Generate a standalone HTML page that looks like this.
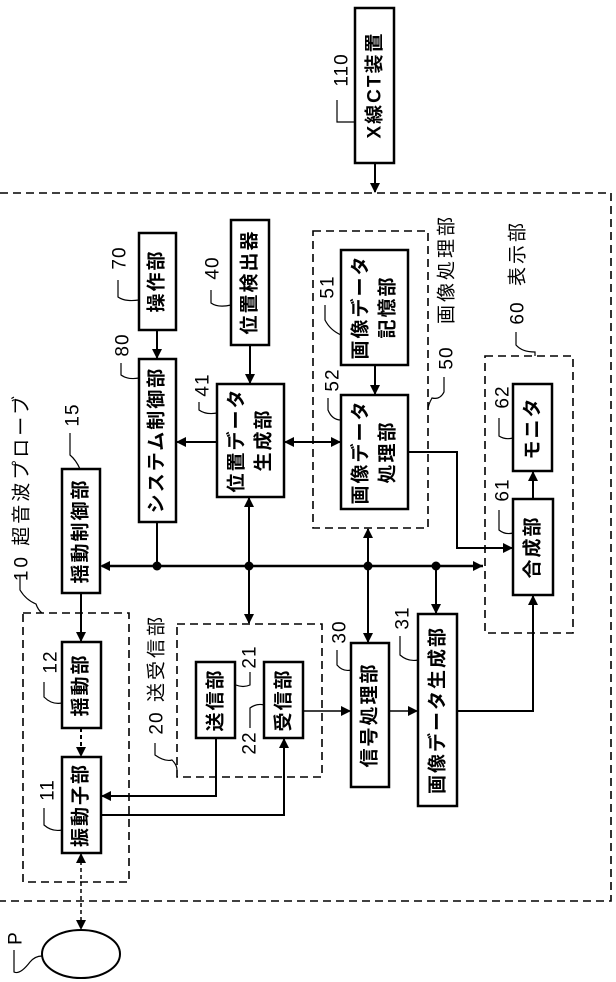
<!DOCTYPE html>
<html><head><meta charset="utf-8"><style>
html,body{margin:0;padding:0;background:#fff;}
svg{display:block;}
text{font-family:"Liberation Sans","Noto Sans CJK JP",sans-serif;fill:#000;}
.b{fill:#fff;stroke:#000;stroke-width:2.5;}
.d{fill:none;stroke:#000;stroke-width:1.6;stroke-dasharray:8,5;}
.l{fill:none;stroke:#000;stroke-width:2;}
.t{font-size:19px;font-weight:bold;letter-spacing:2px;}
.g{font-size:19px;letter-spacing:3px;}
.n{font-size:19px;letter-spacing:1px;}
.w{fill:none;stroke:#000;stroke-width:1.2;}
</style></head><body>
<svg width="616" height="982" viewBox="0 0 616 982" xmlns="http://www.w3.org/2000/svg">
<defs>
<marker id="a" markerWidth="10" markerHeight="10" refX="9" refY="5" orient="auto" markerUnits="userSpaceOnUse"><path d="M0,0 L10,5 L0,10 z" fill="#000"/></marker>
<marker id="s" markerWidth="10" markerHeight="10" refX="1" refY="5" orient="auto" markerUnits="userSpaceOnUse"><path d="M10,0 L0,5 L10,10 z" fill="#000"/></marker>
</defs>

<path class="d" d="M0,193 H611 V901 H0"/>
<rect class="b" x="355" y="8" width="39" height="155"/>
<text class="t" transform="translate(375,85) rotate(-90)" text-anchor="middle" dominant-baseline="central">X線CT装置</text>
<text class="n" transform="translate(342,70) rotate(-90)" text-anchor="middle" dominant-baseline="central">110</text>
<path class="w" d="M337,100 V122 H355"/>
<line class="l" x1="375" y1="163" x2="375" y2="192" marker-end="url(#a)"/>

<rect class="d" x="23" y="613" width="106" height="269"/>
<rect class="d" x="177" y="624" width="145" height="153"/>
<rect class="d" x="313" y="231" width="115" height="297"/>
<rect class="d" x="485" y="356" width="88" height="277"/>

<line class="l" x1="483" y1="566" x2="102" y2="566" style="stroke-width:2.5"/>
<path d="M100,566 l10,-5 v10z M483,566 l-10,-5 v10z" fill="#000"/>
<g fill="#000"><circle cx="157" cy="566" r="4.5"/><circle cx="249" cy="566" r="4.5"/><circle cx="368" cy="566" r="4.5"/><circle cx="436" cy="566" r="4.5"/></g>

<rect class="b" x="139" y="233" width="37" height="97"/>
<text class="t" transform="translate(157,281) rotate(-90)" text-anchor="middle" dominant-baseline="central">操作部</text>
<rect class="b" x="231" y="220" width="38" height="125"/>
<text class="t" transform="translate(250,282) rotate(-90)" text-anchor="middle" dominant-baseline="central">位置検出器</text>
<rect class="b" x="139" y="359" width="37" height="163"/>
<text class="t" transform="translate(157,440) rotate(-90)" text-anchor="middle" dominant-baseline="central">システム制御部</text>
<rect class="b" x="217" y="384" width="67" height="113"/>
<text class="t" transform="translate(237,440) rotate(-90)" text-anchor="middle" dominant-baseline="central">位置データ</text>
<text class="t" transform="translate(264,440) rotate(-90)" text-anchor="middle" dominant-baseline="central">生成部</text>
<rect class="b" x="62" y="469" width="38" height="124"/>
<text class="t" transform="translate(81,531) rotate(-90)" text-anchor="middle" dominant-baseline="central">揺動制御部</text>
<rect class="b" x="341" y="250" width="67" height="115"/>
<text class="t" transform="translate(361,307) rotate(-90)" text-anchor="middle" dominant-baseline="central">画像データ</text>
<text class="t" transform="translate(388,307) rotate(-90)" text-anchor="middle" dominant-baseline="central">記憶部</text>
<rect class="b" x="341" y="395" width="67" height="114"/>
<text class="t" transform="translate(361,452) rotate(-90)" text-anchor="middle" dominant-baseline="central">画像データ</text>
<text class="t" transform="translate(388,452) rotate(-90)" text-anchor="middle" dominant-baseline="central">処理部</text>
<rect class="b" x="513" y="384" width="39" height="87"/>
<text class="t" transform="translate(533,428) rotate(-90)" text-anchor="middle" dominant-baseline="central">モニタ</text>
<rect class="b" x="513" y="499" width="40" height="96"/>
<text class="t" transform="translate(533,547) rotate(-90)" text-anchor="middle" dominant-baseline="central">合成部</text>
<rect class="b" x="62" y="642" width="39" height="86"/>
<text class="t" transform="translate(81,685) rotate(-90)" text-anchor="middle" dominant-baseline="central">揺動部</text>
<rect class="b" x="62" y="757" width="39" height="96"/>
<text class="t" transform="translate(81,805) rotate(-90)" text-anchor="middle" dominant-baseline="central">振動子部</text>
<rect class="b" x="196" y="662" width="39" height="76"/>
<text class="t" transform="translate(216,700) rotate(-90)" text-anchor="middle" dominant-baseline="central">送信部</text>
<rect class="b" x="264" y="662" width="39" height="76"/>
<text class="t" transform="translate(284,700) rotate(-90)" text-anchor="middle" dominant-baseline="central">受信部</text>
<rect class="b" x="351" y="643" width="38" height="144"/>
<text class="t" transform="translate(370,715) rotate(-90)" text-anchor="middle" dominant-baseline="central">信号処理部</text>
<rect class="b" x="418" y="614" width="39" height="192"/>
<text class="t" transform="translate(438,710) rotate(-90)" text-anchor="middle" dominant-baseline="central">画像データ生成部</text>

<line class="l" x1="157" y1="330" x2="157" y2="358" marker-end="url(#a)"/>
<line class="l" x1="250" y1="345" x2="250" y2="383" marker-end="url(#a)"/>
<line class="l" x1="217" y1="442" x2="177" y2="442" marker-end="url(#a)"/>
<line class="l" x1="285" y1="442" x2="340" y2="442" marker-start="url(#s)" marker-end="url(#a)"/>
<line class="l" x1="375" y1="365" x2="375" y2="394" marker-end="url(#a)"/>
<line class="l" x1="157" y1="522" x2="157" y2="566"/>
<line class="l" x1="249" y1="566" x2="249" y2="498" marker-end="url(#a)"/>
<line class="l" x1="249" y1="566" x2="249" y2="623" marker-end="url(#a)"/>
<line class="l" x1="368" y1="566" x2="368" y2="529" marker-end="url(#a)"/>
<line class="l" x1="368" y1="566" x2="368" y2="642" marker-end="url(#a)"/>
<line class="l" x1="436" y1="566" x2="436" y2="613" marker-end="url(#a)"/>
<path class="l" d="M408,452 H457 V548 H512" marker-end="url(#a)"/>
<line class="l" x1="533" y1="499" x2="533" y2="472" marker-end="url(#a)"/>
<line class="l" x1="81" y1="593" x2="81" y2="641" marker-end="url(#a)"/>
<line class="l" x1="81" y1="728" x2="81" y2="756" marker-end="url(#a)" style="stroke-dasharray:4,3"/>
<path class="l" d="M216,738 V796 H102" marker-end="url(#a)"/>
<path class="l" d="M101,815 H284 V739" marker-end="url(#a)"/>
<line class="l" x1="303" y1="711" x2="350" y2="711" marker-end="url(#a)" style="stroke-width:1.5"/>
<line class="l" x1="389" y1="711" x2="417" y2="711" marker-end="url(#a)" style="stroke-width:1.5"/>
<path class="l" d="M457,711 H533 V596" marker-end="url(#a)"/>
<line class="l" x1="81" y1="854" x2="81" y2="929" marker-start="url(#s)" marker-end="url(#a)" style="stroke-width:1.5;stroke-dasharray:4,3"/>

<ellipse cx="81" cy="954" rx="39" ry="24" fill="none" stroke="#000" stroke-width="2"/>
<text class="n" transform="translate(16,938) rotate(-90)" text-anchor="middle" dominant-baseline="central">P</text>
<path class="w" d="M14,950 V972 Q20,975 30,962 Q35,956 42,956"/>

<text class="n" transform="translate(120,258) rotate(-90)" text-anchor="middle" dominant-baseline="central">70</text>
<path class="w" d="M118,280 V297 Q125,302 139,300"/>
<text class="n" transform="translate(213,268) rotate(-90)" text-anchor="middle" dominant-baseline="central">40</text>
<path class="w" d="M211,290 V303 Q218,308 231,305"/>
<text class="n" transform="translate(123,345) rotate(-90)" text-anchor="middle" dominant-baseline="central">80</text>
<path class="w" d="M121,363 V375 Q128,380 139,378"/>
<text class="n" transform="translate(203,385) rotate(-90)" text-anchor="middle" dominant-baseline="central">41</text>
<path class="w" d="M199,402 V410 Q206,415 217,413"/>
<text class="n" transform="translate(73,415) rotate(-90)" text-anchor="middle" dominant-baseline="central">15</text>
<path class="w" d="M70,433 V455 Q76,460 80,469"/>
<text class="g" transform="translate(22,487) rotate(-90)" text-anchor="middle" dominant-baseline="central">10  超音波プローブ</text>
<path class="w" d="M20,575 V590 Q26,600 36,604 Q38,610 42,613"/>
<text class="n" transform="translate(328,287) rotate(-90)" text-anchor="middle" dominant-baseline="central">51</text>
<path class="w" d="M325,305 V320 Q330,330 341,335"/>
<text class="n" transform="translate(333,380) rotate(-90)" text-anchor="middle" dominant-baseline="central">52</text>
<path class="w" d="M328,398 V410 Q332,420 341,420"/>
<text class="g" transform="translate(447,269) rotate(-90)" text-anchor="middle" dominant-baseline="central">画像処理部</text>
<text class="n" transform="translate(447,358) rotate(-90)" text-anchor="middle" dominant-baseline="central">50</text>
<path class="w" d="M444,377 V392 Q440,400 432,398 Q428,405 428,410"/>
<text class="g" transform="translate(518,253) rotate(-90)" text-anchor="middle" dominant-baseline="central">表示部</text>
<text class="n" transform="translate(518,313) rotate(-90)" text-anchor="middle" dominant-baseline="central">60</text>
<path class="w" d="M516,332 V345 Q522,352 535,352 V356"/>
<text class="n" transform="translate(503,397) rotate(-90)" text-anchor="middle" dominant-baseline="central">62</text>
<path class="w" d="M499,418 V436 Q505,440 513,438"/>
<text class="n" transform="translate(503,490) rotate(-90)" text-anchor="middle" dominant-baseline="central">61</text>
<path class="w" d="M499,510 V530 Q505,535 513,533"/>
<text class="g" transform="translate(157,658) rotate(-90)" text-anchor="middle" dominant-baseline="central">送受信部</text>
<text class="n" transform="translate(157,723) rotate(-90)" text-anchor="middle" dominant-baseline="central">20</text>
<path class="w" d="M155,743 V755 Q165,762 172,760 Q177,765 177,770"/>
<text class="n" transform="translate(250,657) rotate(-90)" text-anchor="middle" dominant-baseline="central">21</text>
<path class="w" d="M250,672 V685 Q243,688 236,685"/>
<text class="n" transform="translate(250,743) rotate(-90)" text-anchor="middle" dominant-baseline="central">22</text>
<path class="w" d="M250,728 V708 Q257,703 264,705"/>
<text class="n" transform="translate(51,662) rotate(-90)" text-anchor="middle" dominant-baseline="central">12</text>
<path class="w" d="M44,682 V697 Q52,705 62,703"/>
<text class="n" transform="translate(48,790) rotate(-90)" text-anchor="middle" dominant-baseline="central">11</text>
<path class="w" d="M44,808 V825 Q52,832 62,830"/>
<text class="n" transform="translate(340,632) rotate(-90)" text-anchor="middle" dominant-baseline="central">30</text>
<path class="w" d="M337,650 V665 Q343,672 351,670"/>
<text class="n" transform="translate(403,618) rotate(-90)" text-anchor="middle" dominant-baseline="central">31</text>
<path class="w" d="M400,636 V655 Q408,662 418,660"/>
</svg>
</body></html>
